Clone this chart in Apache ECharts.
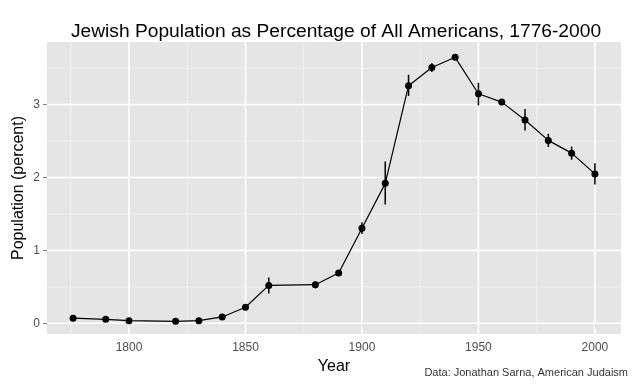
<!DOCTYPE html>
<html><head><meta charset="utf-8">
<script src="https://cdn.jsdelivr.net/npm/echarts@6/dist/echarts.min.js"></script>
<style>html,body{margin:0;padding:0;background:#fff}#c{width:640px;height:384px}</style>
</head><body><div id="c"></div>
<script>
const years = [1776,1790,1800,1820,1830,1840,1850,1860,1880,1890,1900,1910,1920,1930,1940,1950,1960,1970,1980,1990,2000];
const percent = [0.07,0.055,0.036,0.027,0.036,0.087,0.22,0.52,0.53,0.69,1.305,1.92,3.26,3.51,3.65,3.15,3.035,2.79,2.51,2.335,2.05];
const errLow = [0.07,0.055,0.036,0.027,0.036,0.087,0.22,0.41,0.48,0.65,1.225,1.63,3.12,3.45,3.65,2.99,3.00,2.645,2.42,2.245,1.905];
const errHigh = [0.07,0.055,0.036,0.027,0.036,0.087,0.22,0.63,0.58,0.73,1.385,2.22,3.41,3.57,3.65,3.30,3.07,2.94,2.60,2.425,2.195];
const xTicks = [1800,1850,1900,1950,2000];
const xMinor = [1775,1825,1875,1925,1975];
const yTicks = [0,1,2,3];
const yMinor = [0.5,1.5,2.5,3.5];

const pts = years.map((y,i)=>[y,percent[i]]);
const bars = years.map((y,i)=>[y,errLow[i],errHigh[i]]);
const gridData = [];
xMinor.forEach(v=>gridData.push([0,v,0]));
yMinor.forEach(v=>gridData.push([1,v,0]));
xTicks.forEach(v=>gridData.push([0,v,1]));
yTicks.forEach(v=>gridData.push([1,v,1]));

const chart = echarts.init(document.getElementById('c'));
chart.setOption({
  animation:false,
  title:{text:'Jewish Population as Percentage of All Americans, 1776-2000',left:331,textAlign:'center',top:17,
    textStyle:{fontFamily:'Liberation Sans',fontSize:19.2,fontWeight:'normal',color:'#000'}},
  grid:{left:47,right:19,top:42,bottom:50,show:true,backgroundColor:'#e5e5e5',borderWidth:0,outerBoundsMode:'none',containLabel:false},
  xAxis:{type:'value',min:1764.8,max:2011.2,name:'Year',nameLocation:'middle',nameGap:25,nameMoveOverlap:false,
    nameTextStyle:{fontFamily:'Liberation Sans',fontSize:16,color:'#000'},
    axisLine:{show:false},splitLine:{show:false},
    axisTick:{show:true,length:4,customValues:xTicks,lineStyle:{color:'#7f7f7f',width:1}},
    axisLabel:{customValues:xTicks,formatter:v=>String(v),color:'#4d4d4d',fontFamily:'Liberation Sans',fontSize:12,margin:8}},
  yAxis:{type:'value',min:-0.147,max:3.86,name:'Population (percent)',nameLocation:'middle',nameGap:20,nameMoveOverlap:false,
    nameTextStyle:{fontFamily:'Liberation Sans',fontSize:16,color:'#000'},
    axisLine:{show:false},splitLine:{show:false},
    axisTick:{show:true,length:4,customValues:yTicks,lineStyle:{color:'#7f7f7f',width:1}},
    axisLabel:{customValues:yTicks,formatter:v=>String(v),color:'#4d4d4d',fontFamily:'Liberation Sans',fontSize:12,margin:7}},
  graphic:[{type:'text',right:12,bottom:6,style:{text:'Data: Jonathan Sarna, American Judaism',
    fontFamily:'Liberation Sans',fontSize:11,fill:'#333'}}],
  series:[
    {type:'custom',z:1,silent:true,data:gridData,renderItem:function(params,api){
      const cs=params.coordSys;const dir=api.value(0);const v=api.value(1);const major=api.value(2);
      const style={stroke:major?'#ffffff':'#f2f2f2',lineWidth:major?1.6:0.8};
      if(dir===0){const p=api.coord([v,0]);return {type:'line',shape:{x1:p[0],y1:cs.y,x2:p[0],y2:cs.y+cs.height},style};}
      const p=api.coord([1800,v]);return {type:'line',shape:{x1:cs.x,y1:p[1],x2:cs.x+cs.width,y2:p[1]},style};
    }},
    {type:'custom',z:3,silent:true,data:bars,renderItem:function(params,api){
      const x=api.value(0);const a=api.coord([x,api.value(1)]);const b=api.coord([x,api.value(2)]);
      return {type:'line',shape:{x1:a[0],y1:a[1],x2:b[0],y2:b[1]},style:{stroke:'#000',lineWidth:1.5}};
    }},
    {type:'line',z:4,data:pts,symbol:'circle',symbolSize:7,itemStyle:{color:'#000'},lineStyle:{color:'#000',width:1.2}}
  ]
});
</script></body></html>
